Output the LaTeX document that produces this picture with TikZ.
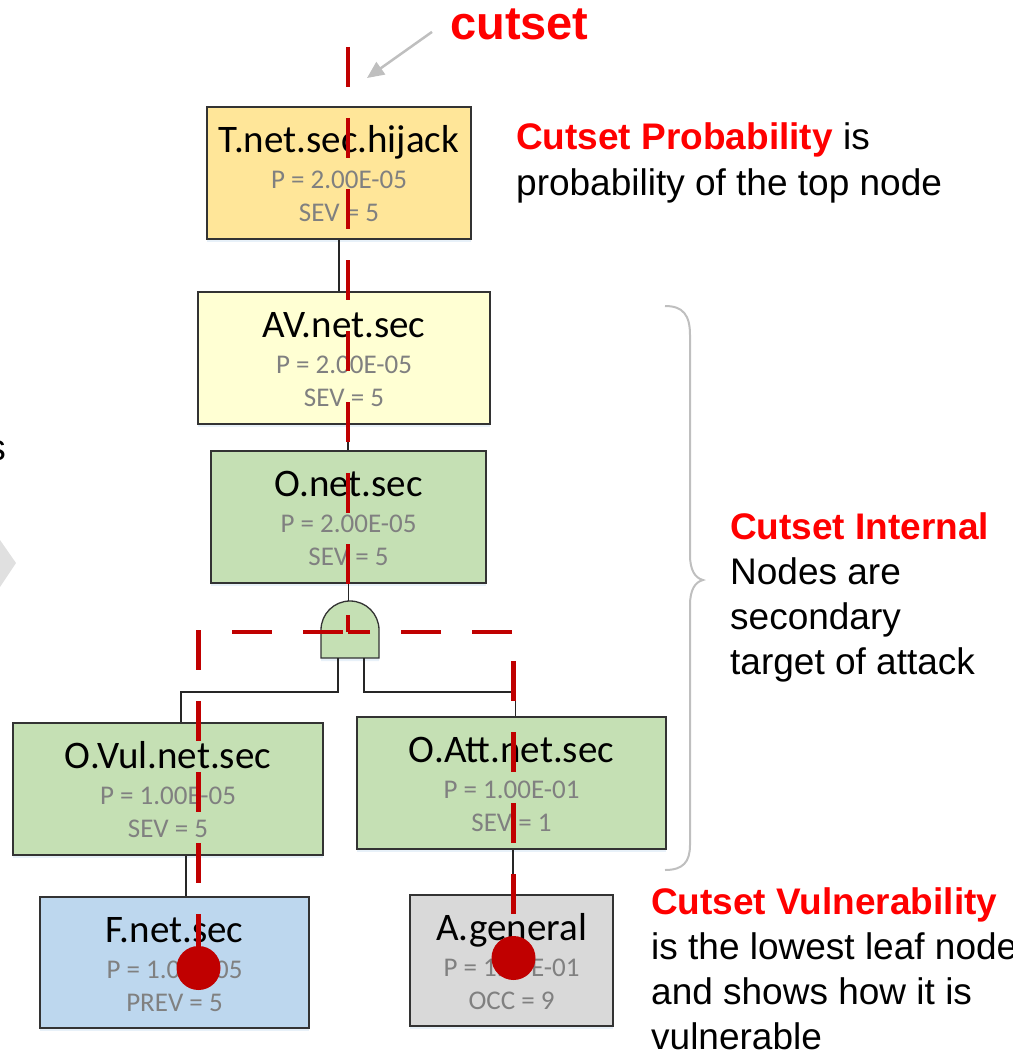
\documentclass[tikz,border=0pt]{standalone}
\usepackage{fontspec}
\setmainfont{Liberation Sans}
\newfontfamily\boxfont{Carlito}
\usetikzlibrary{arrows.meta,shadows}

\definecolor{cutred}{HTML}{C00000}
\definecolor{notered}{HTML}{FF0000}
\definecolor{topfill}{HTML}{FFE699}
\definecolor{avfill}{HTML}{FFFFD3}
\definecolor{ofill}{HTML}{C5E0B4}
\definecolor{ffill}{HTML}{BDD7EE}
\definecolor{afill}{HTML}{D9D9D9}
\definecolor{subgrey}{HTML}{808080}
\definecolor{edgegrey}{HTML}{BFBFBF}
\definecolor{chevgrey}{HTML}{E0E0E0}

\begin{document}
\begin{tikzpicture}[x=1pt, y=-1pt,
	treebox/.style={draw=black!80, line width=1.3pt, inner sep=0pt,
		drop shadow={shadow xshift=0pt, shadow yshift=-3pt, opacity=0.35, fill=ffill}},
	boxtitle/.style={font=\boxfont\fontsize{39}{39}\selectfont, anchor=base, inner sep=0pt},
	boxsub/.style={font=\boxfont\fontsize{27}{27}\selectfont, text=subgrey, anchor=base, inner sep=0pt},
	link/.style={draw=black!85, line width=1.1pt},
	cut/.style={draw=cutred, line width=4.5pt, dash pattern=on 40pt off 31pt},
	cutdot/.style={circle, fill=cutred, minimum size=44pt, inner sep=0pt},
	note/.style={font=\fontsize{37}{45}\selectfont, align=left, inner sep=0pt, anchor=base west},
	pointer/.style={draw=edgegrey, line width=2.5pt, -{Triangle[length=17pt,width=15pt]}}]
	\clip (0,0) rectangle (1012,1051);
	\useasboundingbox (0,0) rectangle (1012,1051);

	%cropped pieces on the left
		\node[note, anchor=base east] (leftword) at (6,460) {s};
		\fill[chevgrey] (0,540) -- (16,563) -- (0,587) -- cycle;

	%tree boxes
		\node[treebox, fill=topfill, minimum width=264pt, minimum height=132pt] (hijack) at (339,173) {};
		\node[treebox, fill=avfill, minimum width=292pt, minimum height=132pt] (av) at (344,358) {};
		\node[treebox, fill=ofill, minimum width=275pt, minimum height=132pt] (onet) at (348.5,517) {};
		\node[treebox, fill=ofill, minimum width=310pt, minimum height=132pt] (ovul) at (168,789) {};
		\node[treebox, fill=ofill, minimum width=309pt, minimum height=132pt] (oatt) at (511.5,783) {};
		\node[treebox, fill=ffill, minimum width=269pt, minimum height=131pt] (fnet) at (174.5,962.5) {};
		\node[treebox, fill=afill, minimum width=203pt, minimum height=131pt] (agen) at (511.5,960.5) {};

		\foreach \n/\lbl/\pv/\sv in {hijack/T.net.sec.hijack/P = 2.00E-05/SEV = 5,
				av/AV.net.sec/P = 2.00E-05/SEV = 5,
				onet/O.net.sec/P = 2.00E-05/SEV = 5,
				ovul/O.Vul.net.sec/P = 1.00E-05/SEV = 5,
				oatt/O.Att.net.sec/P = 1.00E-01/SEV = 1,
				fnet/F.net.sec/P = 1.00E-05/PREV = 5,
				agen/A.general/P = 1.00E-01/OCC = 9}{
			\node[boxtitle] (\n-lbl) at ([yshift=-46]\n.north) {\lbl};
			\node[boxsub] (\n-p) at ([yshift=-82]\n.north) {\pv};
			\node[boxsub] (\n-sev) at ([yshift=-115]\n.north) {\sv};
		}

	%and gate
		\coordinate (gatetop) at (350,601);
		\coordinate (gateleft) at (338,658);
		\coordinate (gateright) at (364,658);
		\draw[treebox, fill=ofill] (321,658) -- (321,630) arc[start angle=180, end angle=0, radius=29pt] -- (379,658) -- cycle;

	%links
		\draw[link] (hijack.south) -- (hijack.south |- av.north);
		\draw[link] ([xshift=4]av.south) -- ([xshift=4]av.south |- onet.north);
		\draw[link] (onet.south) -- (onet.south |- gatetop);
		\draw[link] (gateleft) -- ++(0,34) -| ([xshift=13]ovul.north);
		\draw[link] (gateright) -- ++(0,34) -| ([xshift=4]oatt.north);
		\draw[link] ([xshift=18]ovul.south) -- ([xshift=18]ovul.south |- fnet.north);
		\draw[link] ([xshift=1.5]oatt.south) -- ([xshift=1.5]oatt.south |- agen.north);

	%cutset line
		\coordinate (cuttop) at (348,47);
		\coordinate (cutjoin) at (348,632);
		\coordinate (cutleft) at (232,632);
		\coordinate (cutright) at (512,632);
		\coordinate (leftdrop) at (198.5,630);
		\coordinate (rightdrop) at (513.5,661);
		\node[cutdot] (fdot) at (198.5,968) {};
		\node[cutdot] (adot) at (513.5,958) {};
		\draw[cut] (cuttop) -- (cutjoin);
		\draw[cut] (cutleft) -- (cutjoin);
		\draw[cut] (cutright) -- (cutjoin);
		\draw[cut] (leftdrop) -- (fdot.center);
		\draw[cut] (rightdrop) -- (adot.center);

	%labels (base is the last line)
		\node[note, font=\bfseries\fontsize{47}{47}\selectfont, text=notered] (cutlabel) at (450,40) {cutset};
		\draw[pointer] ([xshift=-18,yshift=-7]cutlabel.west) -- ([xshift=19,yshift=-31]cuttop);

		\node[note] (probnote) at (516,195) {\textcolor{notered}{\bfseries Cutset Probability} is\\probability of the top node};
		\node[note] (internote) at (730,674) {\textcolor{notered}{\bfseries Cutset Internal}\\Nodes are\\secondary\\target of attack};
		\node[note] (vulnote) at (651,1049) {\textcolor{notered}{\bfseries Cutset Vulnerability}\\is the lowest leaf node\\and shows how it is\\vulnerable};

		\draw[edgegrey, line width=2pt] (665,306) .. controls (683,306) and (690,315) .. (690,335) -- (690,555)
			.. controls (690,570) and (695,578) .. (703,580) .. controls (695,582) and (690,590) .. (690,605)
			-- (690,845) .. controls (690,862) and (683,870) .. (665,870);
\end{tikzpicture}
\end{document}
